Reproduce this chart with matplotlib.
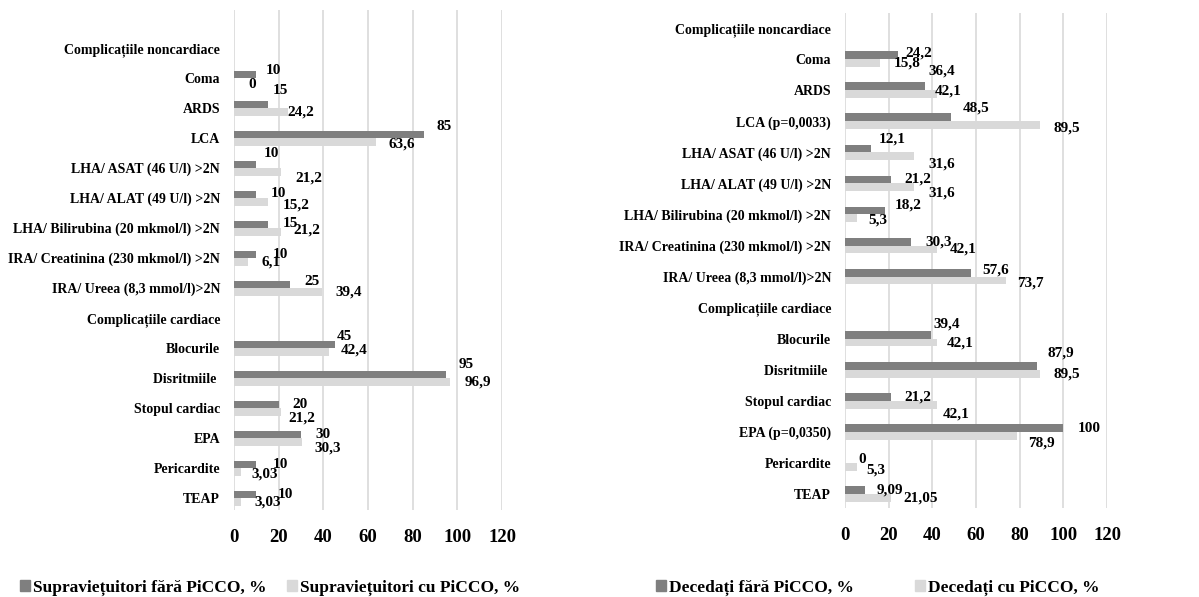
import matplotlib
matplotlib.use("Agg")
import matplotlib.pyplot as plt
from matplotlib.patches import Patch

plt.rcParams['font.family'] = ['Liberation Serif', 'DejaVu Serif']
plt.rcParams['font.weight'] = 'bold'

# categorii, de sus in jos
cat_left = ["Complicațiile noncardiace", "Coma", "ARDS", "LCA",
            "LHA/ ASAT (46 U/l) >2N", "LHA/ ALAT (49 U/l) >2N",
            "LHA/ Bilirubina (20 mkmol/l) >2N", "IRA/ Creatinina (230 mkmol/l) >2N",
            "IRA/ Ureea (8,3 mmol/l)>2N", "Complicațiile cardiace", "Blocurile",
            "Disritmiile ", "Stopul cardiac", "EPA", "Pericardite", "TEAP"]
cat_right = ["Complicațiile noncardiace", "Coma", "ARDS", "LCA (p=0,0033)",
             "LHA/ ASAT (46 U/l) >2N", "LHA/ ALAT (49 U/l) >2N",
             "LHA/ Bilirubina (20 mkmol/l) >2N", "IRA/ Creatinina (230 mkmol/l) >2N",
             "IRA/ Ureea (8,3 mmol/l)>2N", "Complicațiile cardiace", "Blocurile",
             "Disritmiile ", "Stopul cardiac", "EPA (p=0,0350)", "Pericardite", "TEAP"]

# None = fara bara (randuri de titlu)
surv_no = [None, 10, 15, 85, 10, 10, 15, 10, 25, None, 45, 95, 20, 30, 10, 10]
surv_yes = [None, 0, 24.2, 63.6, 21.2, 15.2, 21.2, 6.1, 39.4, None, 42.4, 96.9, 21.2, 30.3, 3.03, 3.03]
surv_no_lbl = [None, "10", "15", "85", "10", "10", "15", "10", "25", None, "45", "95", "20", "30", "10", "10"]
surv_yes_lbl = [None, "0", "24,2", "63,6", "21,2", "15,2", "21,2", "6,1", "39,4", None, "42,4", "96,9", "21,2", "30,3", "3,03", "3,03"]

dead_no = [None, 24.2, 36.4, 48.5, 12.1, 21.2, 18.2, 30.3, 57.6, None, 39.4, 87.9, 21.2, 100, 0, 9.09]
dead_yes = [None, 15.8, 42.1, 89.5, 31.6, 31.6, 5.3, 42.1, 73.7, None, 42.1, 89.5, 42.1, 78.9, 5.3, 21.05]
dead_no_lbl = [None, "24,2", "36,4", "48,5", "12,1", "21,2", "18,2", "30,3", "57,6", None, "39,4", "87,9", "21,2", "100", "0", "9,09"]
dead_yes_lbl = [None, "15,8", "42,1", "89,5", "31,6", "31,6", "5,3", "42,1", "73,7", None, "42,1", "89,5", "42,1", "78,9", "5,3", "21,05"]

ticks = [0, 20, 40, 60, 80, 100, 120]

# deplasarea etichetelor (pixeli: dreapta, sus), ca in Excel
off_l_dark = [None, (9, 4), (5, 14), (13, 8), (7, 11), (14, 1), (15, 1), (16, 0), (15, 3),
              None, (2, 8), (12, 10), (14, 0), (14, 0), (16, 0), (21, 0)]
off_l_light = [None, (14, -3), (-1, 0), (12, -2), (14, -6), (15, -3), (12, 2), (14, 0), (13, 0),
               None, (12, 2), (14, 0), (7, -6), (13, -6), (11, -2), (14, 0)]
off_r_dark = [None, (7, 2), (4, 15), (12, 9), (7, 9), (13, 0), (10, 6), (14, 0), (12, 3),
              None, (2, 11), (11, 13), (13, 0), (14, 0), (13, 0), (12, 0)]
off_r_light = [None, (14, 0), (-2, 3), (13, -3), (14, -8), (14, -6), (12, -2), (13, 0), (11, -3),
               None, (10, 0), (13, 0), (6, -9), (11, -7), (10, -3), (12, 0)]

DARK = "#7f7f7f"
LIGHT = "#d9d9d9"
GRID = "#d9d9d9"
bh = 0.25
PX = 0.72  # pixeli -> puncte la dpi 100


def draw(ax, cats, a, b, la, lb, oa, ob, ylim):
    n = len(cats)
    for i in range(n):
        if a[i] is None:
            continue
        ax.barh(i - bh / 2, a[i], height=bh, color=DARK, zorder=3)
        ax.barh(i + bh / 2, b[i], height=bh, color=LIGHT, zorder=3)
        ax.annotate(la[i], (a[i], i - bh / 2), xytext=(oa[i][0] * PX, oa[i][1] * PX),
                    textcoords="offset points", ha="left", va="center",
                    fontsize=11, fontweight="bold", zorder=5)
        ax.annotate(lb[i], (b[i], i + bh / 2), xytext=(ob[i][0] * PX, ob[i][1] * PX),
                    textcoords="offset points", ha="left", va="center",
                    fontsize=11, fontweight="bold", zorder=5)
    ax.set_yticks(range(n))
    ax.set_yticklabels(cats, fontsize=10, fontweight="bold")
    ax.set_ylim(*ylim)
    ax.set_xlim(0, 120)
    ax.set_xticks(ticks)
    ax.set_xticklabels([str(t) for t in ticks], fontsize=13.5, fontweight="bold")
    ax.tick_params(length=0, pad=14, axis="x")
    ax.tick_params(length=0, pad=10, axis="y")
    ax.grid(axis="x", color=GRID, linewidth=1.2, zorder=0)
    for s in ax.spines.values():
        s.set_visible(False)


fig = plt.figure(figsize=(11.99, 5.97), dpi=100)

ax1 = fig.add_axes([0.1952, 0.1457, 0.2235, 0.8375])
draw(ax1, cat_left, surv_no, surv_yes, surv_no_lbl, surv_yes_lbl,
     off_l_dark, off_l_light, (15.4, -1.27))

ax2 = fig.add_axes([0.7048, 0.149, 0.2185, 0.829])
draw(ax2, cat_right, dead_no, dead_yes, dead_no_lbl, dead_yes_lbl,
     off_r_dark, off_r_light, (15.45, -0.48))

fig.legend(handles=[Patch(color=DARK, label="Supraviețuitori fără PiCCO, %"),
                    Patch(color=LIGHT, label="Supraviețuitori cu PiCCO, %")],
           loc="center", bbox_to_anchor=(0.225, 0.015), ncol=2, frameon=False,
           prop={"size": 12.5, "weight": "bold"}, handlelength=0.6, handleheight=0.6,
           handletextpad=0.15, columnspacing=1.2)
fig.legend(handles=[Patch(color=DARK, label="Decedați fără PiCCO, %"),
                    Patch(color=LIGHT, label="Decedați cu PiCCO, %")],
           loc="center", bbox_to_anchor=(0.732, 0.015), ncol=2, frameon=False,
           prop={"size": 12.5, "weight": "bold"}, handlelength=0.6, handleheight=0.6,
           handletextpad=0.15, columnspacing=3.5)

fig.savefig("out.png", dpi=100)
